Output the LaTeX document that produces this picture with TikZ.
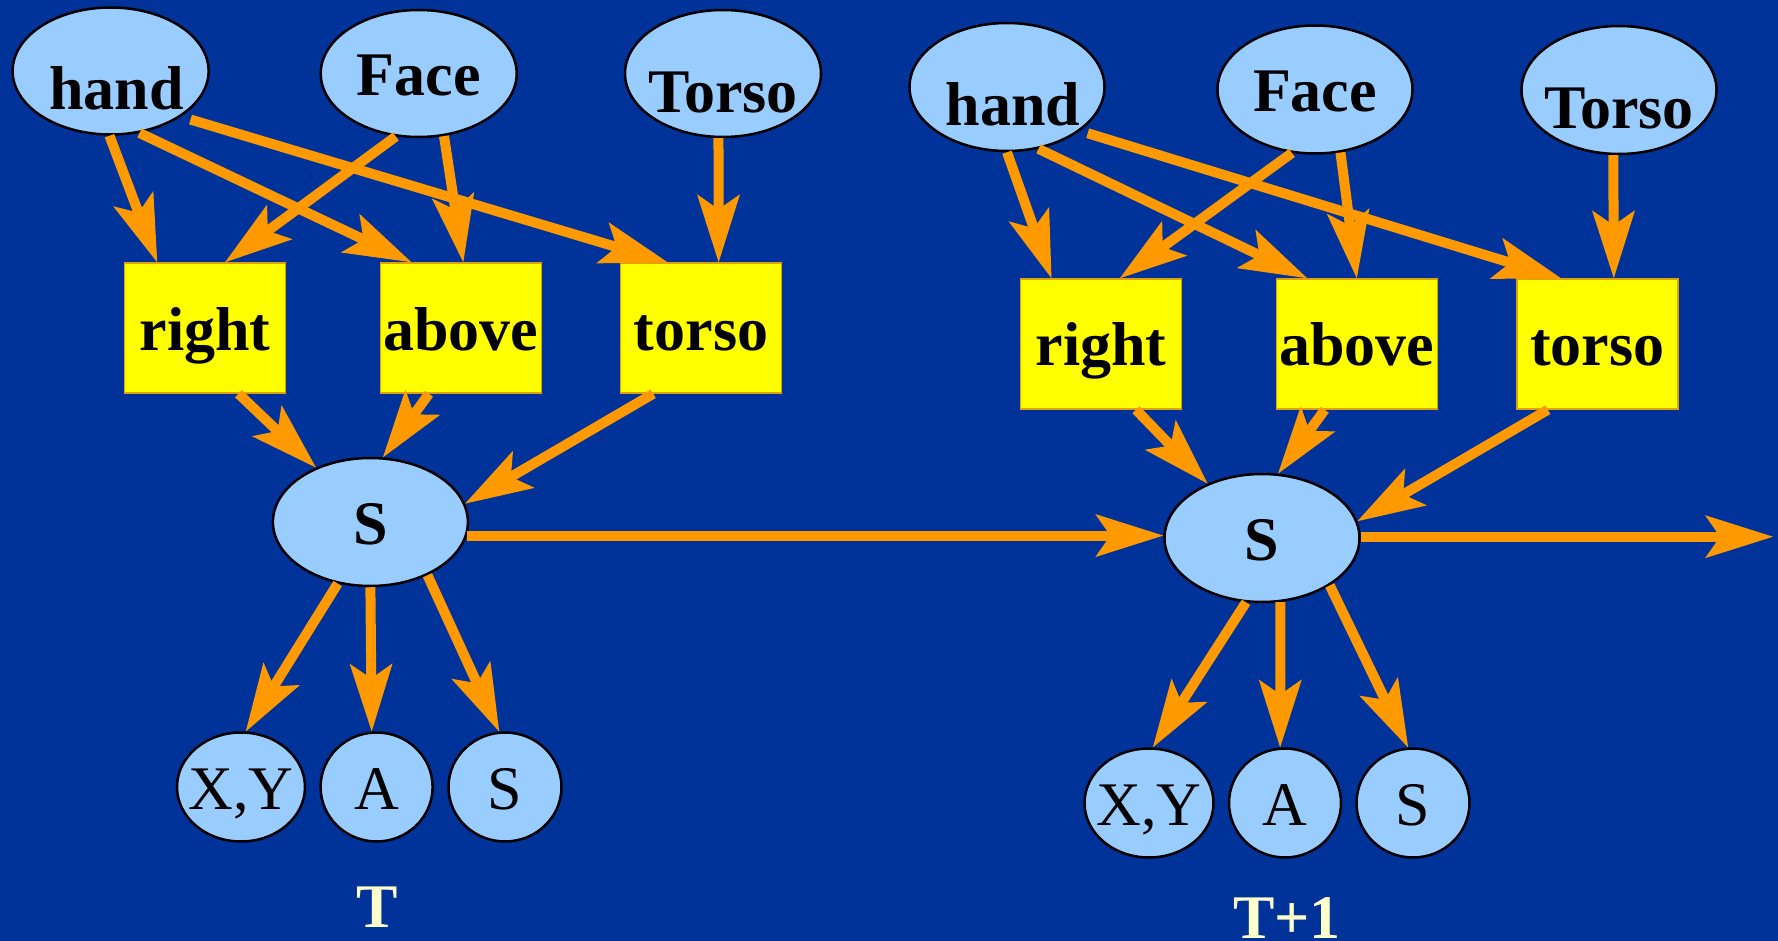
\documentclass[tikz,border=0pt]{standalone}
\usepackage{fontspec}
\setmainfont{Liberation Serif}
\usetikzlibrary{shapes.geometric,arrows.meta,calc}
\definecolor{bgblue}{HTML}{003399}
\definecolor{nodeblue}{HTML}{99CCFF}
\definecolor{arrorange}{HTML}{FF9900}
\definecolor{boxyellow}{HTML}{FFFF00}
\definecolor{boxedge}{HTML}{E0A000}
\definecolor{cream}{HTML}{FFFFCC}
\newcommand\bigbf{\fontsize{62pt}{70pt}\selectfont\bfseries}
\newcommand\bigrm{\fontsize{62pt}{70pt}\selectfont}
\newcommand\zw[1]{\makebox[0pt]{#1}}
\newcommand\lowzw[1]{\makebox[0pt]{\raisebox{-17pt}{#1}}}
\newcommand\lowzwr[1]{\makebox[0pt]{\hspace{12pt}\raisebox{-17pt}{#1}}}
\begin{document}
\begin{tikzpicture}[x=1pt,y=-1pt,
  var/.style={ellipse,draw=black,line width=2.5pt,fill=nodeblue,inner sep=0pt,minimum width=196pt,minimum height=127pt,font=\bigbf,text height=44pt,text depth=0pt},
  rel/.style={rectangle,draw=boxedge,line width=1.5pt,fill=boxyellow,inner sep=0pt,minimum width=161pt,minimum height=130pt,font=\bigbf,text height=44pt,text depth=0pt},
  state/.style={var,minimum width=195pt,minimum height=128pt},
  obs/.style={ellipse,draw=black,line width=2.5pt,fill=nodeblue,inner sep=0pt,minimum height=109pt,font=\bigrm,text height=44pt,text depth=0pt},
  tlabel/.style={font=\bigbf,text=cream,inner sep=0pt,text height=44pt,text depth=0pt},
  arr/.style={draw=arrorange,line width=10pt,-{Stealth[length=68pt,width=43pt,inset=15pt,line width=0pt]}}
]
\fill[bgblue] (0,0) rectangle (1778,941);
\useasboundingbox (0,0) rectangle (1778,941);

% ---- time slice T ----
\node[var] (hL) at (110.6,71) {\lowzwr{hand}};
\node[var] (fL) at (418.7,73.5) {\zw{Face}};
\node[var] (tL) at (723,73.5) {\lowzw{Torso}};
\node[rel] (rL) at (205,328) {\zw{right}};
\node[rel] (aL) at (461,328) {\zw{above}};
\node[rel] (oL) at (701,328) {\zw{torso}};
\node[state] (sL) at (370.4,522) {\zw{S}};
\node[obs,minimum width=128pt] (xL) at (241,787) {\zw{X,Y}};
\node[obs,minimum width=112pt] (aL2) at (376.6,787) {\zw{A}};
\node[obs,minimum width=113pt] (sL2) at (505,787) {\zw{S}};
\node[tlabel] (TL) at (377.5,905.5) {T};

% ---- time slice T+1 ----
\node[var,minimum width=195pt,minimum height=128pt] (hR) at (1007,87) {\lowzwr{hand}};
\node[var,minimum width=195pt,minimum height=128pt] (fR) at (1315,89.5) {\zw{Face}};
\node[var,minimum width=195pt,minimum height=128pt] (tR) at (1619,90) {\lowzw{Torso}};
\node[rel] (rR) at (1101,344) {\zw{right}};
\node[rel] (aR) at (1356.8,344) {\zw{above}};
\node[rel] (oR) at (1597.4,344) {\zw{torso}};
\node[state] (sR) at (1262,538) {\zw{S}};
\node[obs,minimum width=129pt] (xR) at (1149,803) {\zw{X,Y}};
\node[obs,minimum width=112pt] (aR2) at (1285,803) {\zw{A}};
\node[obs,minimum width=113pt] (sR2) at (1413,803) {\zw{S}};
\node[tlabel] (TR) at (1287,916.5) {T+1};
\coordinate (endR) at (1773,536.7);

% ---- arrows T ----
\draw[arr] (hL.-91) -- (rL.126.4);
\draw[arr] (hL.-65) -- (aL.127.6);
\draw[arr,shorten <=10pt] (hL.-33) -- (oL.117.6);
\draw[arr] (fL.-110) -- (rL.73.7);
\draw[arr] (fL.-68) -- (aL.88.2);
\draw[arr] (tL.-94.5) -- (oL.75.3);
\draw[arr] (rL.-63.8) -- (sL.135.7);
\draw[arr] (aL.-116.5) -- (sL.79.2);
\draw[arr] (oL.-126.4) -- (sL.11.6);
\draw[arr] (sL.-118.3) -- (xL.85.8);
\draw[arr] (sL.-90) -- (aL2.95);
\draw[arr] (sL.-43) -- (sL2.96);
\draw[arr] (sL.-8) -- (sL.-8 -| sR.west);

% ---- arrows T+1 ----
\draw[arr] (hR.-90) -- (rR.127);
\draw[arr] (hR.-63) -- (aR.127.5);
\draw[arr,shorten <=8pt] (hR.-31.5) -- (oR.119.4);
\draw[arr] (fR.-110) -- (rR.74.5);
\draw[arr] (fR.-68) -- (aR.90);
\draw[arr] (tR.-95.4) -- (oR.76.5);
\draw[arr] (rR.-62.4) -- (sR.135);
\draw[arr] (aR.-116.8) -- (sR.76.4);
\draw[arr] (oR.-127.8) -- (sR.10.6);
\draw[arr] (sR.-104.5) -- (xR.86);
\draw[arr] (sR.-74.5) -- (aR2.95);
\draw[arr] (sR.-35.5) -- (sR2.95);
\draw[arr] (endR -| sR.east) -- (endR);
\end{tikzpicture}
\end{document}
